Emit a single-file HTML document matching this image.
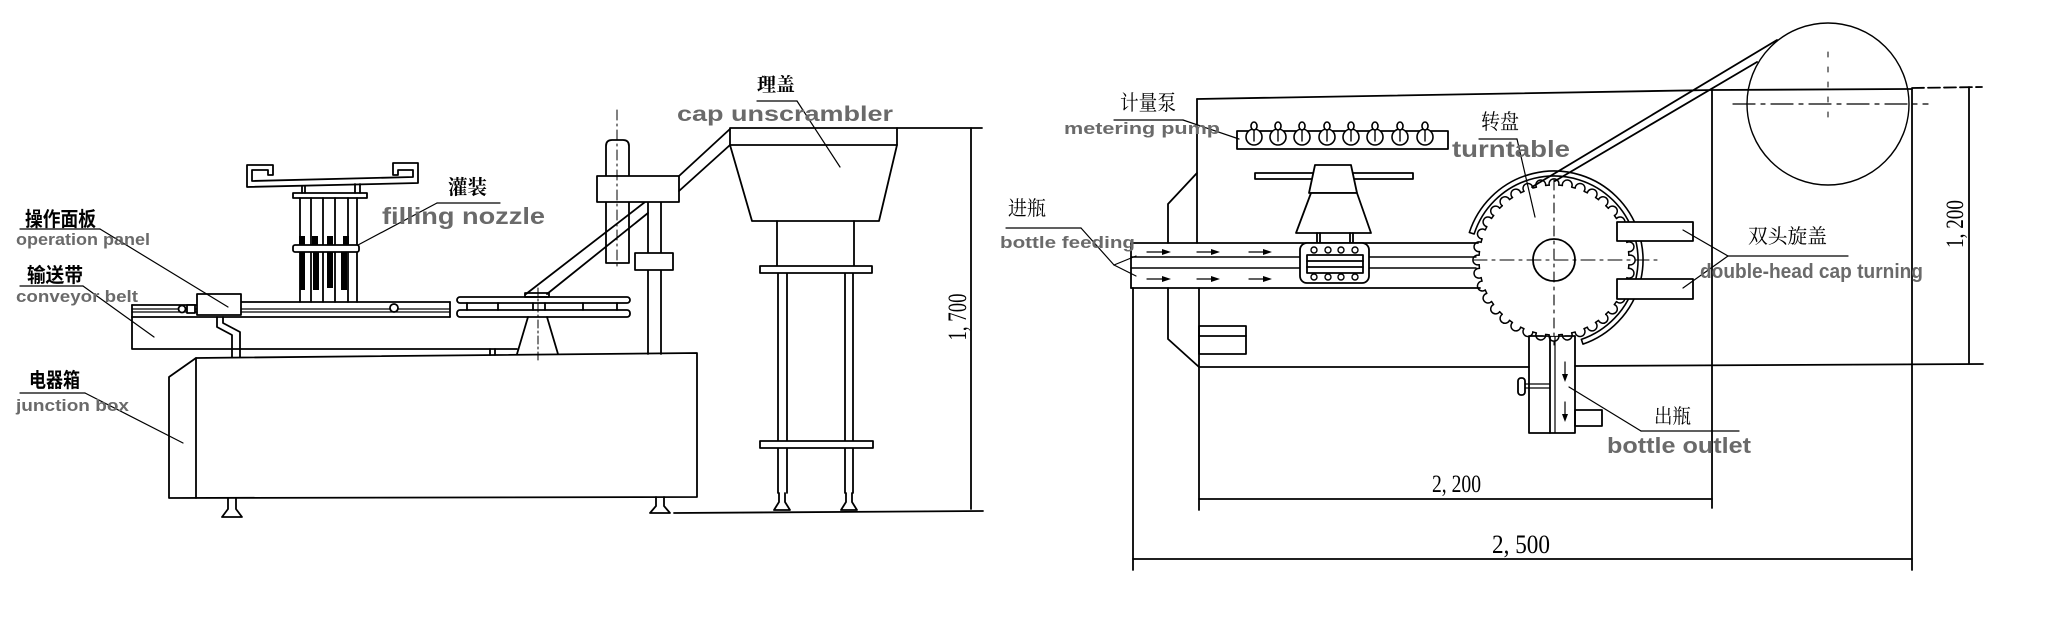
<!DOCTYPE html>
<html><head><meta charset="utf-8">
<style>
html,body{margin:0;padding:0;background:#fff;}
svg{display:block;}
.g{font-family:"Liberation Sans",sans-serif;font-weight:bold;fill:#6a6a6a;}
.cb{font-family:"Liberation Sans","Noto Sans CJK SC",sans-serif;font-weight:bold;fill:#000;}
.cs{font-family:"Liberation Serif","Noto Serif CJK SC",serif;fill:#000;}
.d{font-family:"Liberation Serif",serif;fill:#000;}
</style></head><body>
<svg width="2048" height="642" viewBox="0 0 2048 642" xmlns="http://www.w3.org/2000/svg">
<rect width="2048" height="642" fill="#fff"/>
<g fill="none" stroke="#000" stroke-width="1.8" stroke-linejoin="round" stroke-linecap="round">

<!-- ================= LEFT DRAWING ================= -->
<path d="M196 358 L697 353 L697 497 L169 498 L169 377 Z"/>
<line x1="196" y1="358" x2="196" y2="498"/>
<path d="M228 498 L228 509 L222 517 L242 517 L236 509 L236 498"/>
<path d="M656 497 L656 506 L650 513 L670 513 L664 506 L664 497"/>
<line x1="674" y1="513" x2="983" y2="511"/>

<line x1="648" y1="202" x2="648" y2="354"/>
<line x1="661" y1="202" x2="661" y2="354"/>
<line x1="645" y1="202" x2="526" y2="294"/>
<line x1="648" y1="213" x2="547" y2="294"/>
<path d="M606 176 L606 146 Q606 140 612 140 L623 140 Q629 140 629 146 L629 176"/>
<path d="M606 202 L606 263 L629 263 L629 202"/>
<rect x="597" y="176" width="82" height="26" fill="#fff"/>
<rect x="635" y="253" width="38" height="17" fill="#fff"/>
<line x1="617" y1="110" x2="617" y2="270" stroke-width="1" stroke-dasharray="10 4 2 4"/>
<line x1="679" y1="176" x2="730" y2="129"/>
<line x1="679" y1="191" x2="730" y2="145"/>

<rect x="730" y="128" width="167" height="17"/>
<path d="M730 145 L752 221 L879 221 L897 145"/>
<line x1="777" y1="221" x2="777" y2="266"/>
<line x1="854" y1="221" x2="854" y2="266"/>
<path d="M778 273 V493 M787 273 V493 M845 273 V493 M853 273 V493"/>
<rect x="760" y="266" width="112" height="7" fill="#fff"/>
<rect x="760" y="441" width="113" height="7" fill="#fff"/>
<path d="M779 493 V502 L774 510 L790 510 L785 502 V493"/>
<path d="M846 493 V502 L841 510 L857 510 L852 502 V493"/>
<line x1="897" y1="128" x2="982" y2="128"/>
<line x1="971" y1="128" x2="971" y2="509"/>

<path d="M247 165 L273 165 L273 175 L268 175 L268 170 L252 170 L252 181 L413 177 L413 170 L398 170 L398 175 L393 175 L393 163 L418 163 L418 183 L247 187 Z"/>
<path d="M302 186 V193 M305 186 V193 M355 184 V193 M360 184 V193"/>
<rect x="293" y="193" width="74" height="5"/>
<path d="M300 198 V302 M311 198 V302 M323 198 V302 M335 198 V302 M348 198 V302 M357 198 V302"/>
<rect x="293" y="245" width="66" height="7" rx="2" fill="#fff"/>
<g fill="#000" stroke="none">
<rect x="299" y="236" width="6" height="9"/>
<rect x="312" y="236" width="6" height="9"/>
<rect x="327" y="236" width="6" height="9"/>
<rect x="343" y="236" width="6" height="9"/>
<rect x="300" y="252" width="5" height="38"/>
<rect x="313" y="252" width="6" height="38"/>
<rect x="327" y="252" width="6" height="36"/>
<rect x="341" y="252" width="6" height="38"/>
</g>

<line x1="241" y1="302" x2="450" y2="302"/>
<line x1="132" y1="305" x2="197" y2="305"/>
<line x1="132" y1="309" x2="450" y2="309" stroke-width="1.2"/>
<line x1="132" y1="312" x2="450" y2="312" stroke-width="1.2"/>
<line x1="132" y1="317" x2="450" y2="317"/>
<line x1="132" y1="305" x2="132" y2="317"/>
<line x1="450" y1="302" x2="450" y2="317"/>
<circle cx="182" cy="309" r="3.5" fill="#fff"/>
<circle cx="394" cy="308" r="4" fill="#fff"/>
<rect x="187" y="305" width="8" height="8" fill="#fff"/>
<rect x="197" y="294" width="44" height="21" fill="#fff"/>
<path d="M132 317 V349 H517"/>
<path d="M217 317 V327 L232 335 V357"/>
<path d="M223 317 V323 L240 332 V357"/>
<path d="M490 349 V355 M495 349 V355"/>
<rect x="457" y="297" width="173" height="6" rx="3"/>
<rect x="457" y="310" width="173" height="7" rx="3"/>
<path d="M467 303 V310 M498 303 V310 M533 303 V310 M545 303 V310 M583 303 V310 M617 303 V310"/>
<rect x="525" y="293" width="24" height="4"/>
<path d="M528 317 L517 354 M547 317 L558 354"/>
<line x1="538" y1="288" x2="538" y2="363" stroke-width="1" stroke-dasharray="8 3 2 3"/>

<g stroke-width="1.2">
<line x1="20" y1="229" x2="100" y2="229"/>
<line x1="100" y1="229" x2="228" y2="307"/>
<line x1="20" y1="286" x2="83" y2="286"/>
<line x1="83" y1="286" x2="154" y2="337"/>
<line x1="20" y1="393" x2="85" y2="393"/>
<line x1="85" y1="393" x2="183" y2="443"/>
<line x1="437" y1="203" x2="500" y2="203"/>
<line x1="437" y1="203" x2="358" y2="245"/>
<line x1="757" y1="101" x2="797" y2="101"/>
<line x1="797" y1="101" x2="840" y2="167"/>
</g>

<!-- ================= RIGHT DRAWING ================= -->
<line x1="1197" y1="99" x2="1712" y2="90"/>
<line x1="1712" y1="90" x2="1912" y2="89"/>
<line x1="1912" y1="88" x2="1982" y2="87" stroke-dasharray="12 4"/>
<line x1="1197" y1="99" x2="1197" y2="243"/>
<line x1="1199" y1="288" x2="1199" y2="510"/>
<path d="M1197 173 L1168 204 L1168 243"/>
<path d="M1168 288 L1168 339 L1199 367"/>
<line x1="1199" y1="367" x2="1529" y2="367"/>
<line x1="1575" y1="366" x2="1983" y2="364"/>
<rect x="1199" y="326" width="47" height="28"/>
<line x1="1199" y1="336" x2="1246" y2="336"/>
<line x1="1712" y1="90" x2="1712" y2="508"/>
<line x1="1912" y1="89" x2="1912" y2="570"/>
<line x1="1969" y1="87" x2="1969" y2="363"/>
<line x1="1199" y1="499" x2="1712" y2="499"/>
<line x1="1133" y1="288" x2="1133" y2="570"/>
<line x1="1133" y1="559" x2="1912" y2="559"/>

<circle cx="1828" cy="104" r="81" stroke-width="1.4"/>
<line x1="1733" y1="104" x2="1928" y2="104" stroke-width="1.2" stroke-dasharray="22 6 4 6"/>
<line x1="1828" y1="52" x2="1828" y2="118" stroke-width="1" stroke-dasharray="5 10"/>

<line x1="1131" y1="243" x2="1478" y2="243"/>
<line x1="1131" y1="257" x2="1476" y2="257" stroke-width="1.4"/>
<line x1="1131" y1="268" x2="1476" y2="268" stroke-width="1.4"/>
<line x1="1131" y1="288" x2="1480" y2="288"/>
<line x1="1131" y1="243" x2="1131" y2="288"/>
<g stroke-width="1.2">
<line x1="1147" y1="252" x2="1165" y2="252"/>
<line x1="1197" y1="252" x2="1214" y2="252"/>
<line x1="1249" y1="252" x2="1266" y2="252"/>
<line x1="1147" y1="279" x2="1165" y2="279"/>
<line x1="1197" y1="279" x2="1214" y2="279"/>
<line x1="1249" y1="279" x2="1266" y2="279"/>
</g>
<g fill="#000" stroke="none">
<path d="M1171 252 L1162 249 L1162 255 Z"/>
<path d="M1220 252 L1211 249 L1211 255 Z"/>
<path d="M1272 252 L1263 249 L1263 255 Z"/>
<path d="M1171 279 L1162 276 L1162 282 Z"/>
<path d="M1220 279 L1211 276 L1211 282 Z"/>
<path d="M1272 279 L1263 276 L1263 282 Z"/>
</g>

<rect x="1255" y="173" width="158" height="6"/>
<path d="M1315 165 L1351 165 L1357 193 L1309 193 Z" fill="#fff"/>
<path d="M1311 193 L1357 193 L1371 233 L1296 233 Z" fill="#fff"/>
<path d="M1317 233 V244 M1320 233 V244 M1350 233 V244 M1353 233 V244"/>
<rect x="1300" y="243" width="69" height="40" rx="7" fill="#fff"/>
<rect x="1307" y="255" width="56" height="18"/>
<line x1="1307" y1="261" x2="1363" y2="261"/>
<line x1="1307" y1="267" x2="1363" y2="267"/>
<g stroke-width="1.4" fill="#fff">
<circle cx="1314" cy="250" r="3"/><circle cx="1328" cy="250" r="3"/><circle cx="1341" cy="250" r="3"/><circle cx="1355" cy="250" r="3"/>
<circle cx="1314" cy="277" r="3"/><circle cx="1328" cy="277" r="3"/><circle cx="1341" cy="277" r="3"/><circle cx="1355" cy="277" r="3"/>
</g>

<rect x="1237" y="131" width="211" height="18"/>
<g fill="#fff" stroke-width="1.6">
<circle cx="1254" cy="137" r="8"/><circle cx="1278" cy="137" r="8"/><circle cx="1302" cy="137" r="8"/><circle cx="1327" cy="137" r="8"/>
<circle cx="1351" cy="137" r="8"/><circle cx="1375" cy="137" r="8"/><circle cx="1400" cy="137" r="8"/><circle cx="1425" cy="137" r="8"/>
<ellipse cx="1254" cy="126" rx="3" ry="4"/><ellipse cx="1278" cy="126" rx="3" ry="4"/><ellipse cx="1302" cy="126" rx="3" ry="4"/><ellipse cx="1327" cy="126" rx="3" ry="4"/>
<ellipse cx="1351" cy="126" rx="3" ry="4"/><ellipse cx="1375" cy="126" rx="3" ry="4"/><ellipse cx="1400" cy="126" rx="3" ry="4"/><ellipse cx="1425" cy="126" rx="3" ry="4"/>
</g>
<path d="M1254 130 V141 M1278 130 V141 M1302 130 V141 M1327 130 V141 M1351 130 V141 M1375 130 V141 M1400 130 V141 M1425 130 V141" stroke-width="1.4"/>

<rect x="1529" y="336" width="46" height="97"/>
<line x1="1550" y1="336" x2="1550" y2="433"/>
<line x1="1555" y1="336" x2="1555" y2="433" stroke-width="1.2"/>
<line x1="1565" y1="362" x2="1565" y2="376" stroke-width="1.2"/>
<line x1="1565" y1="402" x2="1565" y2="416" stroke-width="1.2"/>
<path d="M1565 382 L1562 374 L1568 374 Z M1565 422 L1562 414 L1568 414 Z" fill="#000" stroke="none"/>
<rect x="1518" y="378" width="7" height="17" rx="3"/>
<path d="M1525 384 H1550 M1525 388 H1550" stroke-width="1.2"/>
<rect x="1575" y="410" width="27" height="16"/>

<path d="M1469.35 232.5 A89 89 0 1 1 1582.98 344.15 L1581.35 339.42 A84 84 0 1 0 1474.11 234.04 Z" fill="#fff" stroke-width="1.6"/>
<circle cx="1554" cy="260" r="76" fill="#fff" stroke="none"/>
<g stroke-width="1.5">
<path d="M1549.29 185.15 A4.9 4.9 0 1 1 1558.71 185.15 A75 75 0 0 1 1562.36 185.47" transform="rotate(0 1554 260)"/>
<path d="M1549.29 185.15 A4.9 4.9 0 1 1 1558.71 185.15 A75 75 0 0 1 1562.36 185.47" transform="rotate(10 1554 260)"/>
<path d="M1549.29 185.15 A4.9 4.9 0 1 1 1558.71 185.15 A75 75 0 0 1 1562.36 185.47" transform="rotate(20 1554 260)"/>
<path d="M1549.29 185.15 A4.9 4.9 0 1 1 1558.71 185.15 A75 75 0 0 1 1562.36 185.47" transform="rotate(30 1554 260)"/>
<path d="M1549.29 185.15 A4.9 4.9 0 1 1 1558.71 185.15 A75 75 0 0 1 1562.36 185.47" transform="rotate(40 1554 260)"/>
<path d="M1549.29 185.15 A4.9 4.9 0 1 1 1558.71 185.15 A75 75 0 0 1 1562.36 185.47" transform="rotate(50 1554 260)"/>
<path d="M1549.29 185.15 A4.9 4.9 0 1 1 1558.71 185.15 A75 75 0 0 1 1562.36 185.47" transform="rotate(60 1554 260)"/>
<path d="M1549.29 185.15 A4.9 4.9 0 1 1 1558.71 185.15 A75 75 0 0 1 1562.36 185.47" transform="rotate(70 1554 260)"/>
<path d="M1549.29 185.15 A4.9 4.9 0 1 1 1558.71 185.15 A75 75 0 0 1 1562.36 185.47" transform="rotate(80 1554 260)"/>
<path d="M1549.29 185.15 A4.9 4.9 0 1 1 1558.71 185.15 A75 75 0 0 1 1562.36 185.47" transform="rotate(90 1554 260)"/>
<path d="M1549.29 185.15 A4.9 4.9 0 1 1 1558.71 185.15 A75 75 0 0 1 1562.36 185.47" transform="rotate(100 1554 260)"/>
<path d="M1549.29 185.15 A4.9 4.9 0 1 1 1558.71 185.15 A75 75 0 0 1 1562.36 185.47" transform="rotate(110 1554 260)"/>
<path d="M1549.29 185.15 A4.9 4.9 0 1 1 1558.71 185.15 A75 75 0 0 1 1562.36 185.47" transform="rotate(120 1554 260)"/>
<path d="M1549.29 185.15 A4.9 4.9 0 1 1 1558.71 185.15 A75 75 0 0 1 1562.36 185.47" transform="rotate(130 1554 260)"/>
<path d="M1549.29 185.15 A4.9 4.9 0 1 1 1558.71 185.15 A75 75 0 0 1 1562.36 185.47" transform="rotate(140 1554 260)"/>
<path d="M1549.29 185.15 A4.9 4.9 0 1 1 1558.71 185.15 A75 75 0 0 1 1562.36 185.47" transform="rotate(150 1554 260)"/>
<path d="M1549.29 185.15 A4.9 4.9 0 1 1 1558.71 185.15 A75 75 0 0 1 1562.36 185.47" transform="rotate(160 1554 260)"/>
<path d="M1549.29 185.15 A4.9 4.9 0 1 1 1558.71 185.15 A75 75 0 0 1 1562.36 185.47" transform="rotate(170 1554 260)"/>
<path d="M1549.29 185.15 A4.9 4.9 0 1 1 1558.71 185.15 A75 75 0 0 1 1562.36 185.47" transform="rotate(180 1554 260)"/>
<path d="M1549.29 185.15 A4.9 4.9 0 1 1 1558.71 185.15 A75 75 0 0 1 1562.36 185.47" transform="rotate(190 1554 260)"/>
<path d="M1549.29 185.15 A4.9 4.9 0 1 1 1558.71 185.15 A75 75 0 0 1 1562.36 185.47" transform="rotate(200 1554 260)"/>
<path d="M1549.29 185.15 A4.9 4.9 0 1 1 1558.71 185.15 A75 75 0 0 1 1562.36 185.47" transform="rotate(210 1554 260)"/>
<path d="M1549.29 185.15 A4.9 4.9 0 1 1 1558.71 185.15 A75 75 0 0 1 1562.36 185.47" transform="rotate(220 1554 260)"/>
<path d="M1549.29 185.15 A4.9 4.9 0 1 1 1558.71 185.15 A75 75 0 0 1 1562.36 185.47" transform="rotate(230 1554 260)"/>
<path d="M1549.29 185.15 A4.9 4.9 0 1 1 1558.71 185.15 A75 75 0 0 1 1562.36 185.47" transform="rotate(240 1554 260)"/>
<path d="M1549.29 185.15 A4.9 4.9 0 1 1 1558.71 185.15 A75 75 0 0 1 1562.36 185.47" transform="rotate(250 1554 260)"/>
<path d="M1549.29 185.15 A4.9 4.9 0 1 1 1558.71 185.15 A75 75 0 0 1 1562.36 185.47" transform="rotate(260 1554 260)"/>
<path d="M1549.29 185.15 A4.9 4.9 0 1 1 1558.71 185.15 A75 75 0 0 1 1562.36 185.47" transform="rotate(270 1554 260)"/>
<path d="M1549.29 185.15 A4.9 4.9 0 1 1 1558.71 185.15 A75 75 0 0 1 1562.36 185.47" transform="rotate(280 1554 260)"/>
<path d="M1549.29 185.15 A4.9 4.9 0 1 1 1558.71 185.15 A75 75 0 0 1 1562.36 185.47" transform="rotate(290 1554 260)"/>
<path d="M1549.29 185.15 A4.9 4.9 0 1 1 1558.71 185.15 A75 75 0 0 1 1562.36 185.47" transform="rotate(300 1554 260)"/>
<path d="M1549.29 185.15 A4.9 4.9 0 1 1 1558.71 185.15 A75 75 0 0 1 1562.36 185.47" transform="rotate(310 1554 260)"/>
<path d="M1549.29 185.15 A4.9 4.9 0 1 1 1558.71 185.15 A75 75 0 0 1 1562.36 185.47" transform="rotate(320 1554 260)"/>
<path d="M1549.29 185.15 A4.9 4.9 0 1 1 1558.71 185.15 A75 75 0 0 1 1562.36 185.47" transform="rotate(330 1554 260)"/>
<path d="M1549.29 185.15 A4.9 4.9 0 1 1 1558.71 185.15 A75 75 0 0 1 1562.36 185.47" transform="rotate(340 1554 260)"/>
<path d="M1549.29 185.15 A4.9 4.9 0 1 1 1558.71 185.15 A75 75 0 0 1 1562.36 185.47" transform="rotate(350 1554 260)"/>
</g>
<circle cx="1554" cy="260" r="21" fill="#fff"/>
<line x1="1473" y1="260" x2="1662" y2="260" stroke-width="1.1" stroke-dasharray="14 5 3 5"/>
<line x1="1554" y1="180" x2="1554" y2="345" stroke-width="1.1" stroke-dasharray="10 5 3 5"/>
<rect x="1617" y="222" width="76" height="19" fill="#fff"/>
<rect x="1617" y="279" width="76" height="20" fill="#fff"/>
<line x1="1532" y1="187" x2="1777" y2="40"/>
<line x1="1555" y1="181" x2="1757" y2="62"/>

<g stroke-width="1.2">
<line x1="1114" y1="120" x2="1183" y2="120"/>
<line x1="1183" y1="120" x2="1239" y2="139"/>
<line x1="1006" y1="228" x2="1081" y2="228"/>
<line x1="1081" y1="228" x2="1114" y2="265"/>
<line x1="1114" y1="265" x2="1136" y2="256"/>
<line x1="1114" y1="265" x2="1136" y2="276"/>
<line x1="1479" y1="139" x2="1517" y2="139"/>
<line x1="1517" y1="139" x2="1535" y2="217"/>
<line x1="1728" y1="256" x2="1848" y2="256"/>
<line x1="1728" y1="256" x2="1683" y2="230"/>
<line x1="1728" y1="256" x2="1683" y2="288"/>
<line x1="1641" y1="431" x2="1739" y2="431"/>
<line x1="1641" y1="431" x2="1569" y2="387"/>
</g>
</g>

<!-- ================= TEXT ================= -->
<text class="cb" x="25" y="226" font-size="20" textLength="71" lengthAdjust="spacingAndGlyphs">操作面板</text>
<text class="cb" x="27" y="282" font-size="20" textLength="56" lengthAdjust="spacingAndGlyphs">输送带</text>
<text class="cb" x="29" y="387" font-size="20" textLength="51" lengthAdjust="spacingAndGlyphs">电器箱</text>
<text class="cs" x="448" y="194" font-size="20" font-weight="bold" textLength="39" lengthAdjust="spacingAndGlyphs">灌装</text>
<text class="cs" x="757" y="91" font-size="19" font-weight="bold" textLength="38" lengthAdjust="spacingAndGlyphs">理盖</text>
<text class="g" x="16" y="245" font-size="17" textLength="134" lengthAdjust="spacingAndGlyphs">operation panel</text>
<text class="g" x="16" y="302" font-size="17" textLength="122" lengthAdjust="spacingAndGlyphs">conveyor belt</text>
<text class="g" x="16" y="411" font-size="17" textLength="113" lengthAdjust="spacingAndGlyphs">junction box</text>
<text class="g" x="382" y="224" font-size="23" textLength="163" lengthAdjust="spacingAndGlyphs">filling nozzle</text>
<text class="g" x="677" y="121" font-size="21" textLength="216" lengthAdjust="spacingAndGlyphs">cap unscrambler</text>
<text class="d" x="966" y="317" font-size="26" text-anchor="middle" transform="rotate(-90 966 317)" textLength="47" lengthAdjust="spacingAndGlyphs">1, 700</text>
<text class="d" x="1963" y="224" font-size="25" text-anchor="middle" transform="rotate(-90 1963 224)" textLength="48" lengthAdjust="spacingAndGlyphs">1, 200</text>
<text class="d" x="1432" y="492" font-size="25" textLength="49" lengthAdjust="spacingAndGlyphs">2, 200</text>
<text class="d" x="1492" y="553" font-size="26" textLength="58" lengthAdjust="spacingAndGlyphs">2, 500</text>
<text class="cs" x="1120" y="110" font-size="21" textLength="56" lengthAdjust="spacingAndGlyphs">计量泵</text>
<text class="cs" x="1008" y="215" font-size="20" textLength="38" lengthAdjust="spacingAndGlyphs">进瓶</text>
<text class="cs" x="1481" y="129" font-size="21" textLength="38" lengthAdjust="spacingAndGlyphs">转盘</text>
<text class="cs" x="1748" y="243" font-size="20" textLength="79" lengthAdjust="spacingAndGlyphs">双头旋盖</text>
<text class="cs" x="1654" y="423" font-size="20" textLength="37" lengthAdjust="spacingAndGlyphs">出瓶</text>
<text class="g" x="1064" y="134" font-size="17" textLength="156" lengthAdjust="spacingAndGlyphs">metering pump</text>
<text class="g" x="1000" y="248" font-size="17" textLength="135" lengthAdjust="spacingAndGlyphs">bottle feeding</text>
<text class="g" x="1452" y="157" font-size="23" textLength="118" lengthAdjust="spacingAndGlyphs">turntable</text>
<text class="g" x="1700" y="278" font-size="20" textLength="223" lengthAdjust="spacingAndGlyphs">double-head cap turning</text>
<text class="g" x="1607" y="453" font-size="22" textLength="144" lengthAdjust="spacingAndGlyphs">bottle outlet</text>
</svg>
</body></html>
